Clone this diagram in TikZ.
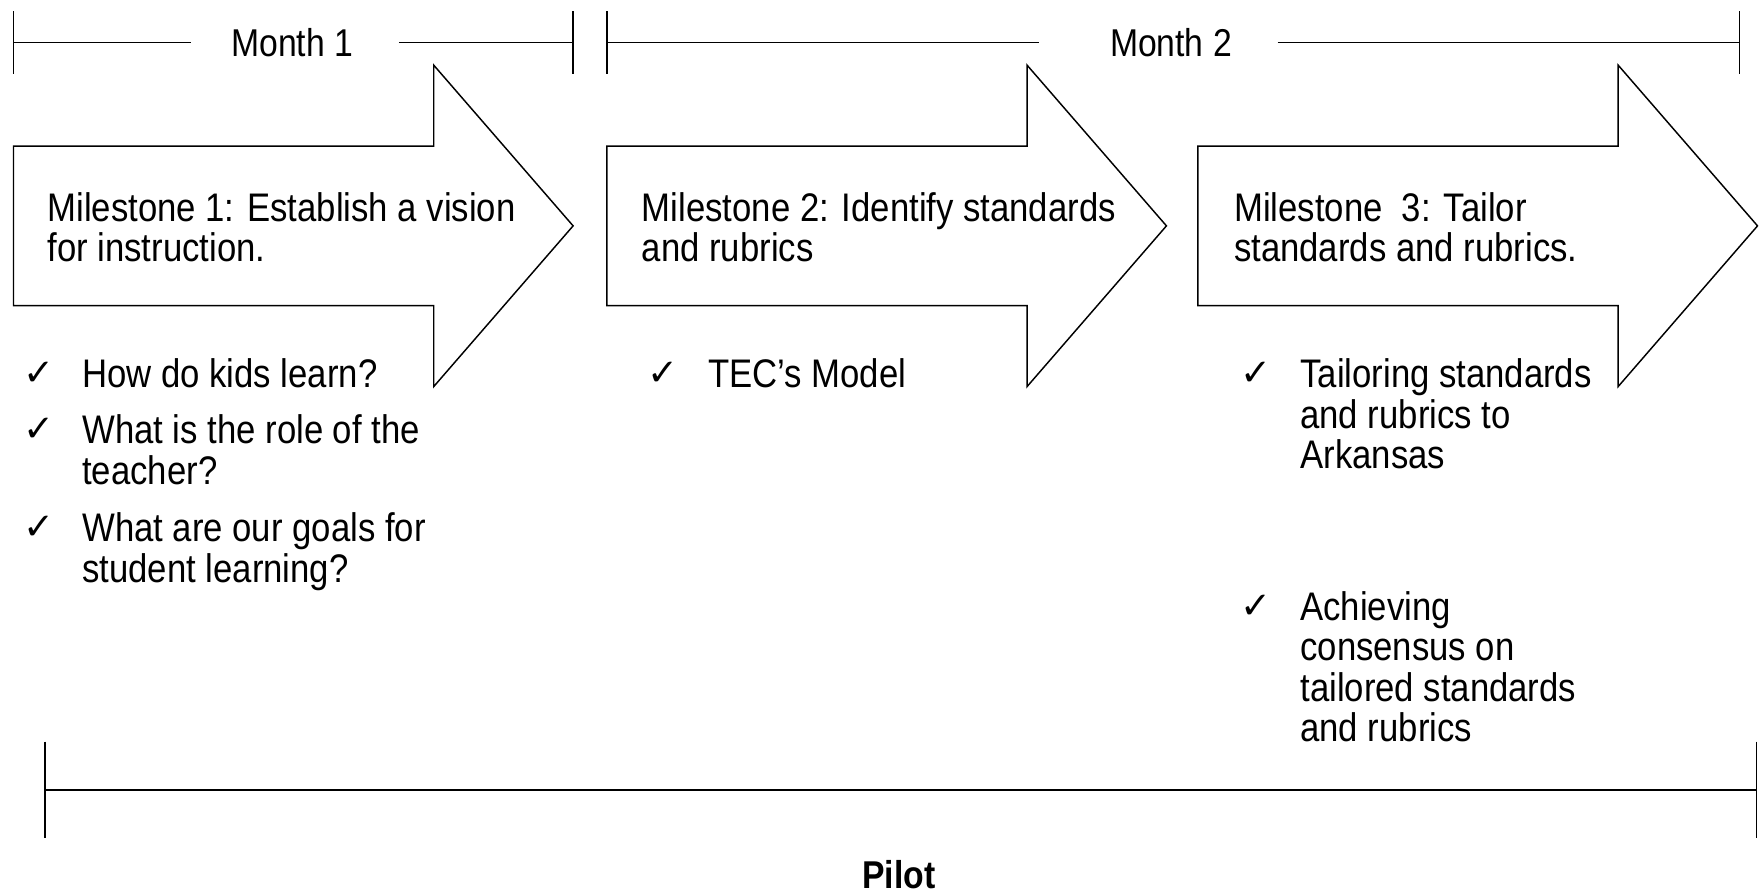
\documentclass[tikz,border=0pt]{standalone}
\usepackage{fontspec}
\setmainfont[FakeStretch=0.87]{Liberation Sans}
\newfontfamily\symfont{DejaVu Sans}
\begin{document}
\begin{tikzpicture}[x=1pt,y=-1pt,
  ln/.style={line width=1.3pt},
  thick ln/.style={line width=2.4pt},
  txt/.style={font=\fontsize{35.5}{36}\selectfont, inner sep=0pt, align=left, anchor=north west},
  chk/.style={font=\symfont\fontsize{33}{36}\selectfont, inner sep=0pt, anchor=north west},
  mon/.style={font=\fontsize{34.5}{36}\selectfont, inner sep=0pt},
  arr/.style={draw, line width=1.3pt, fill=white, line join=miter}]
\useasboundingbox (0,0) rectangle (1568,795);

% ---- top timeline ----
\node[mon] (mo1) at (260,38) {Month 1};
\node[mon] (mo2) at (1042,38) {Month 2};
\coordinate (a0) at (12,38);   \coordinate (a1) at (170,38);
\coordinate (a2) at (355,38);  \coordinate (a3) at (510,38);
\coordinate (b0) at (540,38);  \coordinate (b1) at (925,38);
\coordinate (b2) at (1137,38); \coordinate (b3) at (1548,38);
\draw[ln] (a0) -- (a1);
\draw[ln] (a2) -- (a3);
\draw[ln] (b0) -- (b1);
\draw[ln] (b2) -- (b3);
\foreach \x in {12,510,540,1548}{\draw[ln] (\x,10) -- (\x,66);}

% ---- milestone arrows ----
\foreach \x in {12,540,1066}{
  \draw[arr] (\x,130) -- ++(374,0) -- ++(0,-72) -- ++(124,143) -- ++(-124,143) -- ++(0,-72) -- (\x,272) -- cycle;
}

\node[txt] (ms1) at (42,171) {Milestone 1: Establish a vision\\for instruction.};
\node[txt] (ms2) at (571,171) {Milestone 2: Identify standards\\and rubrics};
\node[txt] (ms3) at (1098,171) {Milestone\ \ 3: Tailor\\standards and rubrics.};

% ---- column 1 ----
\node[chk] (c11) at (21,322) {✓};
\node[txt] (i11) at (73,319) {How do kids learn?};
\node[chk] (c12) at (21,372) {✓};
\node[txt] (i12) at (73,369) {What is the role of the\\teacher?};
\node[chk] (c13) at (21,459) {✓};
\node[txt] (i13) at (73,456) {What are our goals for\\student learning?};

% ---- column 2 ----
\node[chk] (c21) at (576,322) {✓};
\node[txt] (i21) at (630,319) {TEC’s Model};

% ---- column 3 ----
\node[chk] (c31) at (1104,322) {✓};
\node[txt] (i31) at (1157,319) {Tailoring standards\\and rubrics to\\Arkansas};
\node[chk] (c32) at (1104,529) {✓};
\node[txt] (i32) at (1157,526) {Achieving\\consensus on\\tailored standards\\and rubrics};

% ---- bottom pilot bar ----
\coordinate (p0) at (40,703); \coordinate (p1) at (1563,703);
\draw[thick ln] (p0) -- (p1);
\draw[ln] (40,660) -- (40,746);
\draw[ln] (1563,660) -- (1563,746);
\node[font=\bfseries\fontsize{34.5}{36}\selectfont, inner sep=0pt] (pilot) at (800,778) {Pilot};
\end{tikzpicture}
\end{document}
